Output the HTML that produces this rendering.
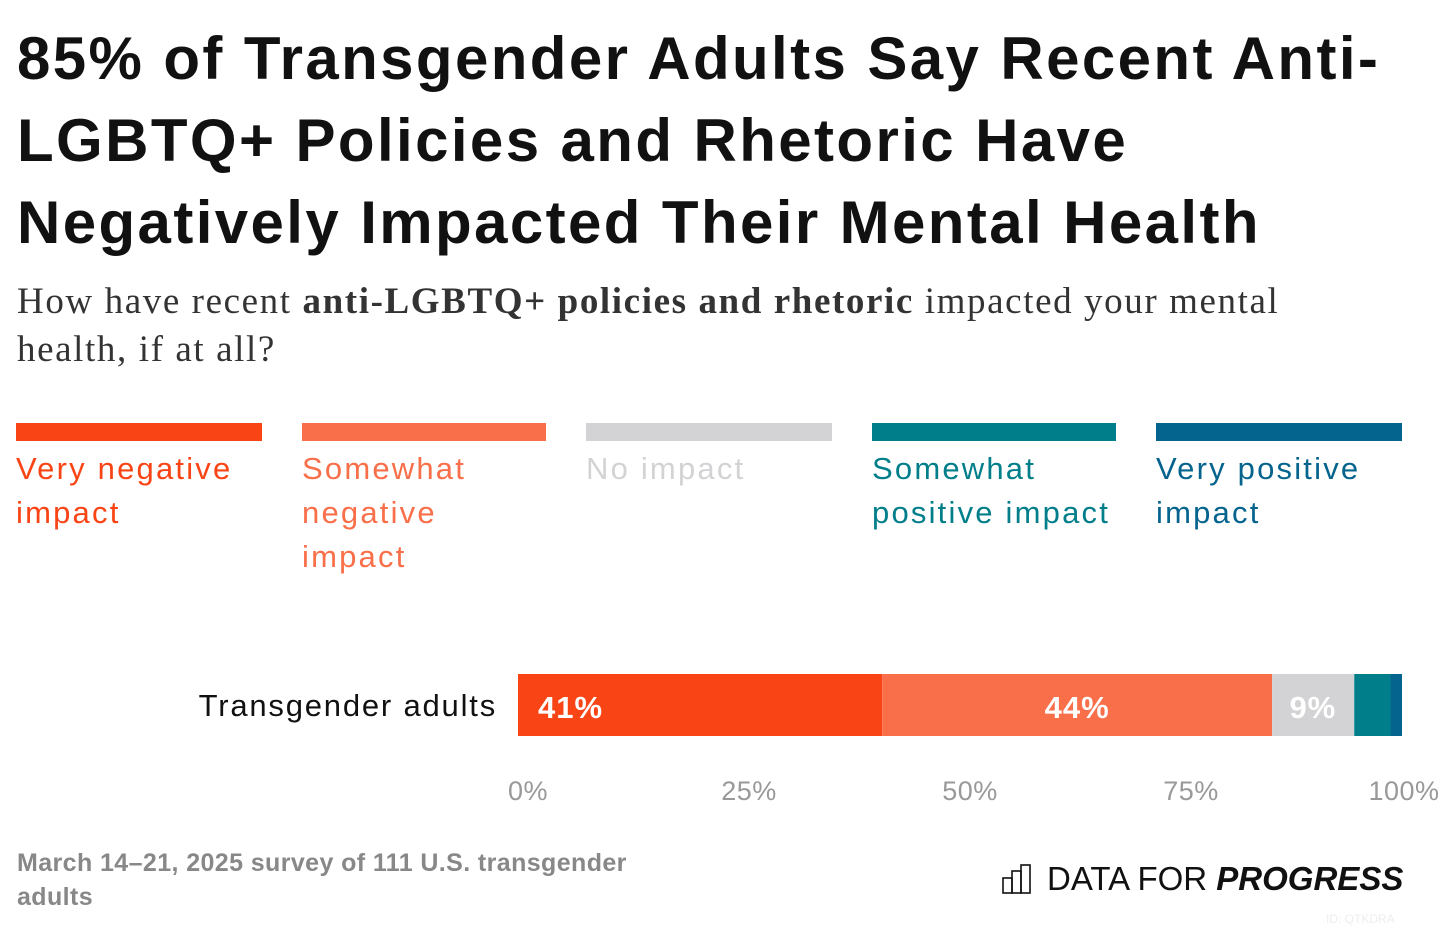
<!DOCTYPE html>
<html><head><meta charset="utf-8">
<style>
body{margin:0;width:1442px;height:930px;background:#fff;position:relative;overflow:hidden;font-family:"Liberation Sans",sans-serif;}
.t{position:absolute;left:17px;top:18px;font-weight:bold;font-size:60px;line-height:82px;color:#111;white-space:nowrap;letter-spacing:2.4px}
.s{position:absolute;left:17px;top:278px;font-family:"Liberation Serif",serif;font-size:37px;line-height:48px;color:#333;white-space:nowrap;letter-spacing:1.6px}
.lg{position:absolute;top:423px;width:246px}
.lg .b{height:18px}
.lg .x{font-size:31px;line-height:44px;margin-top:6px;letter-spacing:2.2px;white-space:nowrap}
.foot{position:absolute;left:17px;top:846px;font-size:25px;line-height:34px;color:#888;font-weight:bold;letter-spacing:0.4px}
</style></head><body>
<div class="t">85% of Transgender Adults Say Recent Anti-<br>LGBTQ+ Policies and Rhetoric Have<br>Negatively Impacted Their Mental Health</div>
<div class="s">How have recent <b>anti-LGBTQ+ policies and rhetoric</b> impacted your mental<br>health, if at all?</div>
<div class="lg" style="left:16px"><div class="b" style="background:#f94415"></div><div class="x" style="color:#f94415">Very negative<br>impact</div></div>
<div class="lg" style="left:302px;width:244px"><div class="b" style="background:#f96f49"></div><div class="x" style="color:#f96f49">Somewhat<br>negative<br>impact</div></div>
<div class="lg" style="left:586px"><div class="b" style="background:#d3d3d5"></div><div class="x" style="color:#d3d3d5">No impact</div></div>
<div class="lg" style="left:872px;width:244px"><div class="b" style="background:#007e8a"></div><div class="x" style="color:#007e8a">Somewhat<br>positive impact</div></div>
<div class="lg" style="left:1156px"><div class="b" style="background:#05648e"></div><div class="x" style="color:#05648e">Very positive<br>impact</div></div>
<svg id="c" width="1442" height="930" style="position:absolute;left:0;top:0"></svg>
<div class="foot">March 14–21, 2025 survey of 111 U.S. transgender<br>adults</div>
<div style="position:absolute;left:1001px;top:860px;white-space:nowrap">
<svg width="34" height="34" style="vertical-align:middle"><g fill="none" stroke="#111" stroke-width="1.6"><rect x="2" y="16" width="9" height="15"/><rect x="11" y="9" width="9" height="22"/><rect x="20" y="3" width="9" height="28"/></g></svg><span style="font-size:33px;color:#111;vertical-align:middle;margin-left:12px;letter-spacing:0px">DATA FOR <b><i>PROGRESS</i></b></span></div>
<div style="position:absolute;left:1326px;top:912px;font-size:12px;color:#eee">ID: QTKDRA</div>
<script>
const categories=["Transgender adults"];
const seriesNames=["Very negative","Somewhat negative","No impact","Somewhat positive","Very positive"];
const seriesValues=[41.2,44.1,9.3,4.1,1.3];
const valueLabels=["41%","44%","9%","",""];
const tickValues=[0,25,50,75,100];
const tickLabels=["0%","25%","50%","75%","100%"];
const colors=["#f94415","#f96f49","#d3d3d5","#007e8a","#05648e"];
const NS="http://www.w3.org/2000/svg",svg=document.getElementById('c');
const x0=518,x1=1402,sx=v=>x0+(x1-x0)*v/100;
function mk(t,a){const e=document.createElementNS(NS,t);for(const k in a)e.setAttribute(k,a[k]);svg.appendChild(e);return e;}
const lab=mk('text',{x:497,y:716,'text-anchor':'end','font-size':31,fill:'#111','font-family':'Liberation Sans','letter-spacing':1.8});
lab.textContent=categories[0];


let acc=0;
seriesValues.forEach((v,i)=>{
  const r=mk('rect',{x:sx(acc),y:674,width:sx(acc+v)-sx(acc),height:62,fill:colors[i]});
  
  
  if(valueLabels[i]){
    const a=i==0?'start':(i==1?'middle':'end');
    const xx=i==0?sx(acc)+20:(i==1?sx(acc+v/2):sx(acc+v)-18);
    const t=mk('text',{x:xx,y:718,'text-anchor':a,'font-size':31,'font-weight':'bold',fill:'#fff','font-family':'Liberation Sans','letter-spacing':1});
    t.textContent=valueLabels[i];
    
    
  }
  acc+=v;
});
tickValues.forEach((v,i)=>{
  const t=mk('text',{x:i==4?sx(v)+2:sx(v)+10,y:800,'text-anchor':'middle','font-size':27,fill:'#999','font-family':'Liberation Sans','letter-spacing':0.5});
  t.textContent=tickLabels[i];
  
  
});
</script>
</body></html>
